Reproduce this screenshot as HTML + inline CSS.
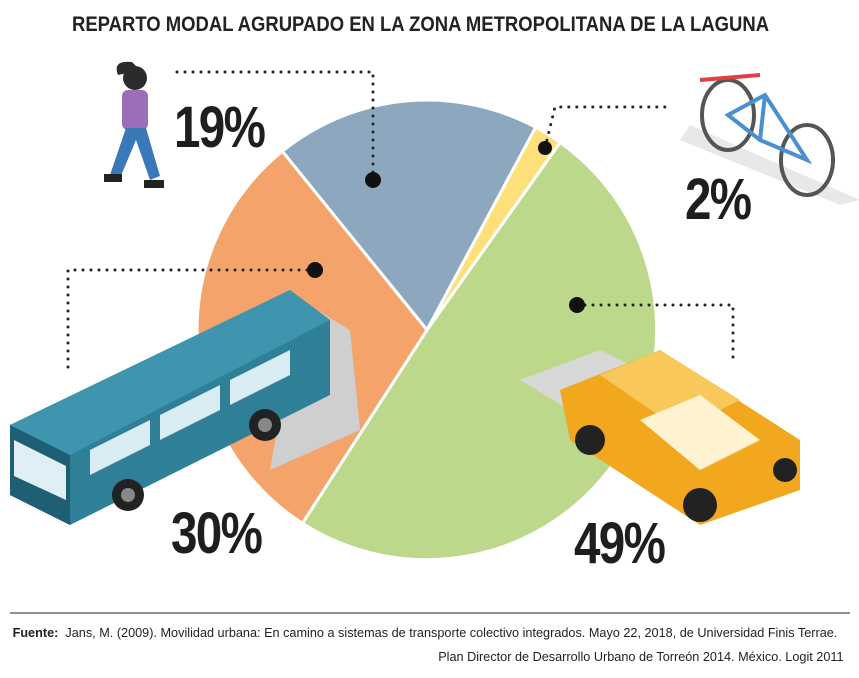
<!DOCTYPE html>
<html><head><meta charset="utf-8"><style>
html,body{margin:0;padding:0;background:#fff;}
body{width:859px;height:678px;position:relative;overflow:hidden;font-family:"Liberation Sans",sans-serif;}
.t{position:absolute;white-space:nowrap;}
.title{left:72px;top:13px;font-weight:bold;font-size:21px;color:#222;transform:scaleX(0.88);transform-origin:0 0;}
.pct{font-weight:bold;font-size:58px;color:#1e1e1e;letter-spacing:-2px;transform:scaleX(0.82);transform-origin:0 0;}
.foot{font-size:13px;color:#222;transform:scaleX(0.975);}
</style></head><body>
<svg width="859" height="678" style="position:absolute;left:0;top:0">
<g stroke="#fff" stroke-width="3" stroke-linejoin="round">
<path d="M427,330 L282.3,151.3 A230,230 0 0 1 535.7,127.3 Z" fill="#8da8be"/>
<path d="M427,330 L535.7,127.3 A230,230 0 0 1 560.2,142.5 Z" fill="#fde07a"/>
<path d="M427,330 L560.2,142.5 A230,230 0 0 1 302.4,523.3 Z" fill="#bcd98b"/>
<path d="M427,330 L302.4,523.3 A230,230 0 0 1 282.3,151.3 Z" fill="#f4a46a"/>
</g>
<g stroke="#222" stroke-width="3" stroke-dasharray="0 8" stroke-linecap="round" fill="none">
<polyline points="373,180 373,72 170,72"/>
<polyline points="315,270 68,270 68,375"/>
<polyline points="545,148 555,107 665,107"/>
<polyline points="577,305 733,305 733,362"/>
</g>
<g fill="#111"><circle cx="373" cy="180" r="8"/><circle cx="315" cy="270" r="8"/><circle cx="545" cy="148" r="7"/><circle cx="577" cy="305" r="8"/></g>
<g>
<circle cx="135" cy="78" r="12" fill="#2b2b2b"/>
<path d="M118,75 Q112,60 132,62 L140,70 Z" fill="#2b2b2b"/>
<rect x="122" y="90" width="26" height="40" rx="6" fill="#9b6fb8"/>
<path d="M126,128 L110,175 L120,178 L136,140 L150,180 L160,176 L146,128 Z" fill="#3a78b8"/>
<rect x="104" y="174" width="18" height="8" fill="#222"/>
<rect x="144" y="180" width="20" height="8" fill="#222"/>
</g>
<g fill="none" stroke-width="4">
<path d="M690,125 L860,200 L840,205 L680,140 Z" fill="#e8e8e8" stroke="none"/>
<ellipse cx="728" cy="115" rx="26" ry="35" stroke="#555"/>
<ellipse cx="807" cy="160" rx="26" ry="35" stroke="#555"/>
<path d="M728,115 L765,95 L807,160 L760,140 Z M765,95 L760,140" stroke="#4a8fd0"/>
<path d="M700,80 L760,75" stroke="#e04040"/>
</g>
<g>
<path d="M300,300 L350,330 L360,430 L270,470 Z" fill="#cfcfcf"/>
<path d="M10,425 L290,290 L330,320 L330,395 L70,525 L10,495 Z" fill="#2f7f96"/>
<path d="M10,425 L70,455 L70,525 L10,495 Z" fill="#1f5f74"/>
<path d="M10,425 L290,290 L330,320 L70,455 Z" fill="#3f95ad"/>
<path d="M14,440 L66,466 L66,500 L14,476 Z" fill="#dfeff5"/>
<g fill="#d9ecf3"><path d="M90,450 L150,420 L150,445 L90,475 Z"/><path d="M160,415 L220,385 L220,410 L160,440 Z"/><path d="M230,380 L290,350 L290,375 L230,405 Z"/></g>
<circle cx="128" cy="495" r="16" fill="#222"/><circle cx="128" cy="495" r="7" fill="#888"/>
<circle cx="265" cy="425" r="16" fill="#222"/><circle cx="265" cy="425" r="7" fill="#888"/>
</g>
<g>
<path d="M520,380 L600,350 L700,400 L620,440 Z" fill="#d8d8d8"/>
<path d="M560,390 L660,350 L800,440 L800,490 L700,525 L570,440 Z" fill="#f2a81e"/>
<path d="M600,375 L660,350 L740,400 L680,430 Z" fill="#f8c85a"/>
<path d="M640,420 L700,395 L760,440 L700,470 Z" fill="#fff2d0"/>
<circle cx="590" cy="440" r="15" fill="#222"/>
<circle cx="700" cy="505" r="17" fill="#222"/>
<circle cx="785" cy="470" r="12" fill="#222"/>
</g>
<line x1="10" y1="613" x2="850" y2="613" stroke="#222" stroke-width="1"/>
</svg>
<div class="t title">REPARTO MODAL AGRUPADO EN LA ZONA METROPOLITANA DE LA LAGUNA</div>
<div class="t pct" style="left:174px;top:94px;">19%</div>
<div class="t pct" style="left:685px;top:166px;">2%</div>
<div class="t pct" style="left:171px;top:500px;">30%</div>
<div class="t pct" style="left:574px;top:510px;">49%</div>
<div class="t foot" style="left:2px;top:625px;"><b>Fuente:</b>&nbsp; Jans, M. (2009). Movilidad urbana: En camino a sistemas de transporte colectivo integrados. Mayo 22, 2018, de Universidad Finis Terrae.</div>
<div class="t foot" style="right:10px;top:649px;">Plan Director de Desarrollo Urbano de Torreón 2014. México. Logit 2011</div>
</body></html>
